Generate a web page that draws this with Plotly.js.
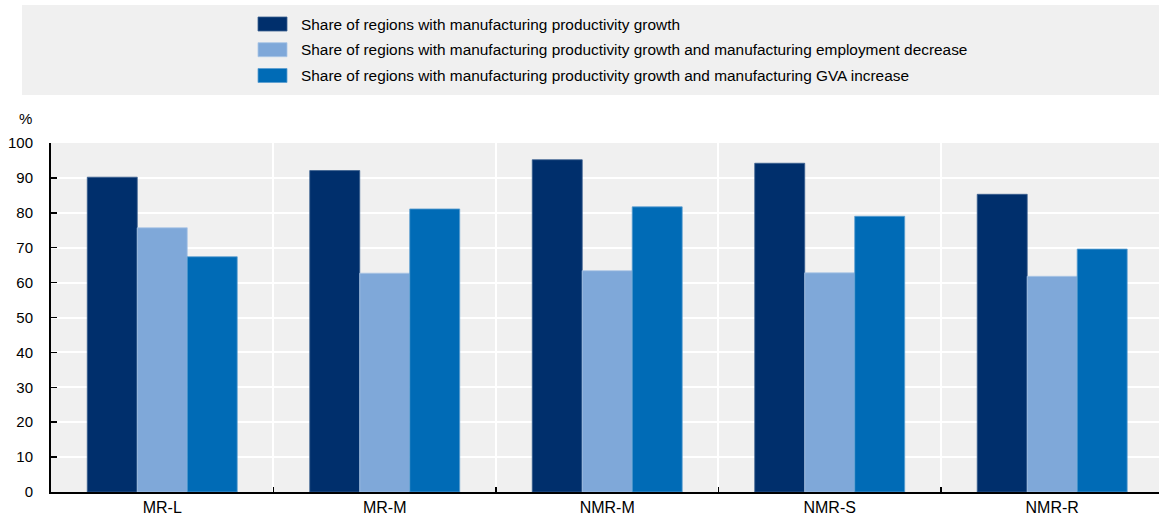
<!DOCTYPE html>
<html><head><meta charset="utf-8">
<script src="https://cdn.plot.ly/plotly-3.0.1.min.js"></script>
<style>html,body{margin:0;padding:0;background:#fff}#chart{width:1159px;height:515px}</style>
</head><body><div id="chart"></div>
<script>
const categories = ["MR-L","MR-M","NMR-M","NMR-S","NMR-R"];
const seriesNames = [
  "Share of regions with manufacturing productivity growth",
  "Share of regions with manufacturing productivity growth and manufacturing employment decrease",
  "Share of regions with manufacturing productivity growth and manufacturing GVA increase"
];
const productivityGrowth = [90.2, 92.1, 95.2, 94.2, 85.3];
const growthEmploymentDecrease = [75.7, 62.7, 63.4, 62.8, 61.8];
const growthGvaIncrease = [67.4, 81.1, 81.7, 79.0, 69.6];
const yTicks = [0,10,20,30,40,50,60,70,80,90,100];
const colors = ["#002F6C", "#7FA8D9", "#006BB6"];
const edge = ["#3a5f8f", "#a9c5e6", "#5c9ed0"];

const FONT = "'Liberation Sans',Arial,sans-serif";
const values = [productivityGrowth, growthEmploymentDecrease, growthGvaIncrease];
const traces = values.map((v,i)=>({
  type:'bar', x:categories, y:v, name:seriesNames[i],
  marker:{color:colors[i], line:{color:edge[i], width:0.8}},
  showlegend:false, hoverinfo:'x+y'
}));

const W=1159, H=515, L=51, R=0, T=143, B=23;
const pw=W-L-R, ph=H-T-B;
const px2x = p => (p-L)/pw;
const px2y = p => (H-B-p)/ph;

const shapes = [{type:'rect', xref:'paper', yref:'paper', x0:px2x(22), x1:px2x(1159), y0:px2y(95), y1:px2y(5),
  fillcolor:'#f0f0f0', line:{width:0}, layer:'below'}];
const annotations = [];
const rowY = [24, 49.7, 75.5];
seriesNames.forEach((n,i)=>{
  shapes.push({type:'rect', xref:'paper', yref:'paper', x0:px2x(258), x1:px2x(287), y0:px2y(rowY[i]+7), y1:px2y(rowY[i]-7),
    fillcolor:colors[i], line:{color:edge[i], width:0.8}});
  annotations.push({xref:'paper', yref:'paper', x:px2x(299), y:px2y(rowY[i]), xanchor:'left', yanchor:'middle',
    text:n, showarrow:false, font:{family:FONT, size:15.4, color:'#000'}});
});
annotations.push({xref:'paper', yref:'paper', x:px2x(34), y:px2y(119), xanchor:'right', yanchor:'middle',
  text:'%', showarrow:false, font:{family:FONT, size:15, color:'#000'}});

const layout = {
  width:W, height:H, margin:{l:L, r:R, t:T, b:B, pad:0},
  paper_bgcolor:'#ffffff', plot_bgcolor:'#f0f0f0',
  barmode:'group', bargap:0.326, bargroupgap:0,
  font:{family:FONT, size:15, color:'#000'},
  xaxis:{type:'category', range:[-0.5, 4.48], tickson:'boundaries', showgrid:true, gridcolor:'#ffffff', gridwidth:2,
    showline:true, linecolor:'#000', linewidth:2, ticks:'inside', ticklen:5, tickcolor:'#000', tickwidth:1.5,
    tickfont:{family:FONT, size:16}, fixedrange:true, zeroline:false},
  yaxis:{range:[0,100], tickvals:yTicks, showgrid:true, gridcolor:'#ffffff', gridwidth:2, zeroline:false,
    showline:true, linecolor:'#000', linewidth:2, ticks:'inside', ticklen:6, tickcolor:'#000', tickwidth:1.5,
    ticklabelstandoff:13,
    tickfont:{family:FONT, size:15}, fixedrange:true},
  shapes:shapes, annotations:annotations, showlegend:false
};
Plotly.newPlot('chart', traces, layout, {displayModeBar:false, staticPlot:true});
</script></body></html>
